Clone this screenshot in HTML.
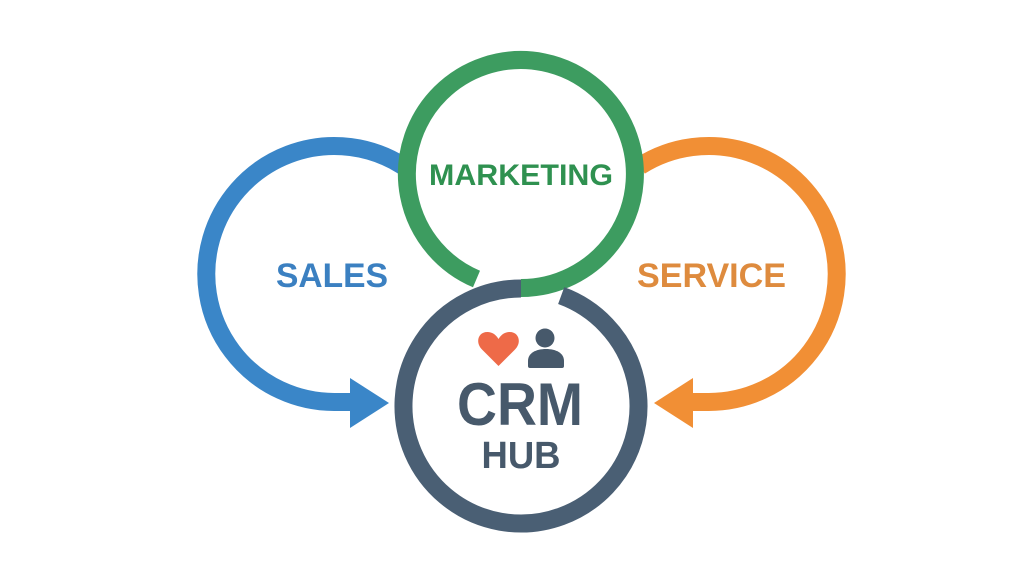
<!DOCTYPE html>
<html>
<head>
<meta charset="utf-8">
<style>
  html,body{margin:0;padding:0;background:#ffffff;}
  svg{display:block;}
  text{font-family:"Liberation Sans", Arial, sans-serif;font-weight:bold;}
</style>
</head>
<body>
<svg width="1024" height="576" viewBox="0 0 1024 576" xmlns="http://www.w3.org/2000/svg">
  <rect width="1024" height="576" fill="#ffffff"/>

  <!-- Blue SALES arc with arrow -->
  <path d="M 403 166 A 128 128 0 1 0 335 402 L 353 402" fill="none" stroke="#3a86c8" stroke-width="18"/>
  <polygon points="350,378 389,403 350,428" fill="#3a86c8"/>

  <!-- Orange SERVICE arc with arrow -->
  <path d="M 640 166 A 128 128 0 1 1 708 402 L 690 402" fill="none" stroke="#f18f35" stroke-width="18"/>
  <polygon points="693,378 654,403 693,428" fill="#f18f35"/>

  <!-- Green MARKETING ring -->
  <path d="M 521 288 A 114 114 0 1 0 476.5 279" fill="none" stroke="#3d9c60" stroke-width="18"/>

  <!-- Dark CRM ring -->
  <path d="M 521 288.5 A 117.5 117.5 0 1 0 561.2 295.6" fill="none" stroke="#4a5f74" stroke-width="18"/>

  <!-- Labels -->
  <text x="521" y="185" font-size="30" fill="#2f9150" text-anchor="middle" textLength="184" lengthAdjust="spacingAndGlyphs">MARKETING</text>
  <text x="332" y="287" font-size="34" fill="#3b80c1" text-anchor="middle" textLength="112" lengthAdjust="spacingAndGlyphs">SALES</text>
  <text x="711.5" y="287" font-size="34" fill="#de8b3e" text-anchor="middle" textLength="149" lengthAdjust="spacingAndGlyphs">SERVICE</text>

  <!-- Icons -->
  <path d="M 498.5 366 L 482 349.5 C 475 342.5 478 331.5 488 332 C 493 332.3 496.5 335.5 498.5 339 C 500.5 335.5 504 332.3 509 332 C 519 331.5 522 342.5 515 349.5 Z" fill="#ee6a48"/>
  <circle cx="545" cy="338" r="9.5" fill="#47596b"/>
  <path d="M 528 366 L 528 361 C 528 353 536 349 546 349 C 556 349 564 353 564 361 L 564 366 Q 564 368 562 368 L 530 368 Q 528 368 528 366 Z" fill="#47596b"/>

  <text x="520" y="425" font-size="60" fill="#47596b" text-anchor="middle" textLength="126" lengthAdjust="spacingAndGlyphs">CRM</text>
  <text x="521" y="468" font-size="38" fill="#47596b" text-anchor="middle" textLength="79" lengthAdjust="spacingAndGlyphs">HUB</text>
</svg>
</body>
</html>
